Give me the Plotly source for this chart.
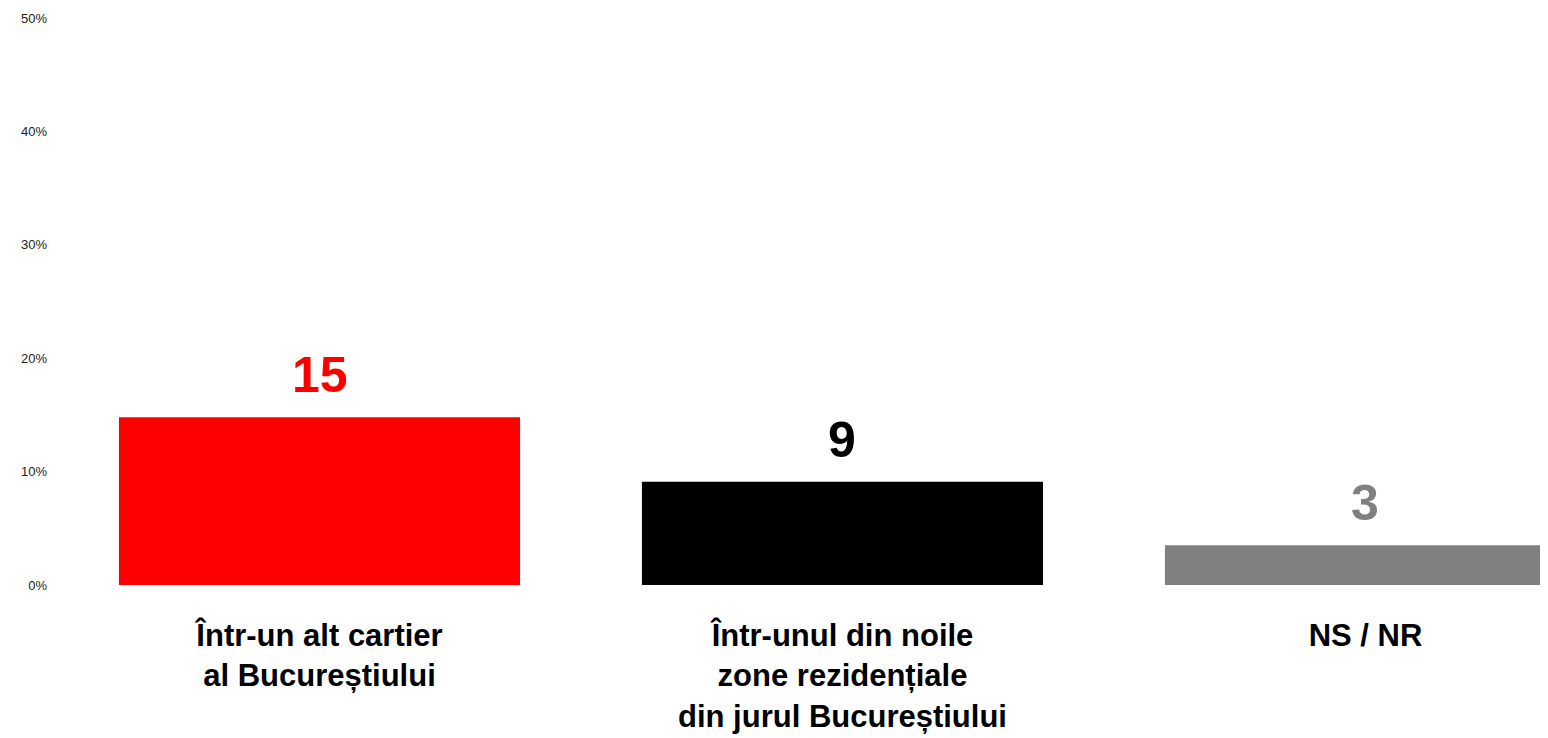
import plotly.graph_objs as go

# data
categories = ["Într-un alt cartier<br>al Bucureștiului",
              "Într-unul din noile<br>zone rezidențiale<br>din jurul Bucureștiului",
              "NS / NR"]
values = [14.8, 9.1, 3.5]
value_labels = ["15", "9", "3"]
bar_colors = ["#FF0000", "#000000", "#808080"]
y_ticks = [0, 10, 20, 30, 40, 50]
y_tick_labels = ["0%", "10%", "20%", "30%", "40%", "50%"]

FONT = "Liberation Sans, Arial, sans-serif"

bars = go.Bar(
    x=categories,
    y=values,
    marker=dict(color=bar_colors, line=dict(width=0)),
    width=0.767,
    hoverinfo="skip"
)

# big value labels over each bar
annotations = []
for cat, val, lab, col in zip(categories, values, value_labels, bar_colors):
    annotations.append(dict(
        x=cat, y=val, text=lab, showarrow=False,
        xanchor="center", yanchor="middle", yshift=42,
        font=dict(family=FONT, size=50, color=col, weight="bold")
    ))

fig = go.Figure(data=[bars])
# page body has an 8px margin, so the plot area is nudged up/left to match
fig.update_layout(
    width=1540, height=730,
    margin=dict(l=50, r=0, t=10, b=153),
    paper_bgcolor="white",
    plot_bgcolor="white",
    showlegend=False,
    annotations=annotations,
    xaxis=dict(
        type="category",
        range=[-0.5, 2.349],
        showgrid=False, zeroline=False, showline=False, ticks="",
        tickfont=dict(family=FONT, size=31, color="#000000", weight="bold"),
        ticklabelstandoff=29
    ),
    yaxis=dict(
        range=[0, 50],
        tickvals=y_ticks,
        ticktext=y_tick_labels,
        showgrid=False, zeroline=False, showline=False, ticks="",
        tickfont=dict(family=FONT, size=13, color="#222222"),
        ticklabelstandoff=10
    )
)

fig.write_html("out.html")
